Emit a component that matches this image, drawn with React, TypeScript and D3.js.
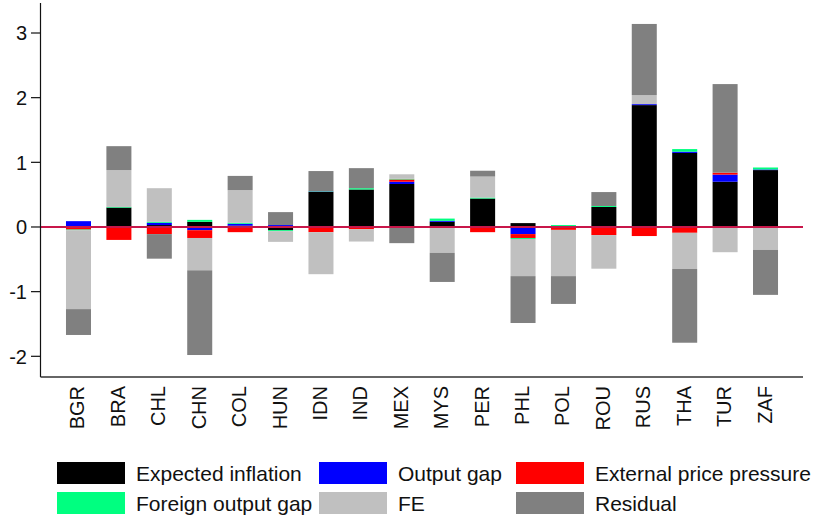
import React from "react";
import * as d3 from "d3";

const countries = ["BGR","BRA","CHL","CHN","COL","HUN","IDN","IND","MEX","MYS","PER","PHL","POL","ROU","RUS","THA","TUR","ZAF"];
const expectedInflation = [0, 0.30, 0.03, 0.08, 0.02, -0.05, 0.545, 0.58, 0.665, 0.08, 0.44, 0.06, 0, 0.31, 1.885, 1.145, 0.70, 0.88];
const outputGap = [0.09, -0.01, 0.035, -0.05, 0.03, 0.03, 0.005, -0.01, 0.035, 0.015, -0.015, -0.11, 0, -0.01, 0.015, 0.02, 0.11, 0.01];
const externalPrice = [-0.04, -0.19, -0.11, -0.12, -0.08, 0, -0.08, -0.025, 0.035, 0, -0.065, -0.06, -0.045, -0.115, -0.14, -0.09, 0.03, -0.015];
const foreignOutputGap = [-0.01, 0.01, 0.015, 0.03, 0.015, -0.015, 0.005, 0.02, 0.01, 0.035, 0.015, -0.015, 0.03, 0.015, 0, 0.04, -0.01, 0.03];
const fe = [-1.22, 0.57, 0.52, -0.50, 0.505, -0.165, -0.65, -0.19, 0.07, -0.40, 0.325, -0.575, -0.715, -0.52, 0.14, -0.56, -0.38, -0.34];
const residual = [-0.40, 0.37, -0.38, -1.31, 0.22, 0.20, 0.31, 0.31, -0.25, -0.45, 0.09, -0.725, -0.43, 0.215, 1.10, -1.14, 1.37, -0.695];

const seriesNames = ["Expected inflation", "Output gap", "External price pressure", "Foreign output gap", "FE", "Residual"];
const seriesColors = ["#000000", "#0000ff", "#ff0000", "#00ff80", "#c0c0c0", "#808080"];
const yTicks = [-2, -1, 0, 1, 2, 3];

const FONT = "'Liberation Sans', Arial, sans-serif";

export default function App() {
  const W = 818, H = 518;
  const allSeries = [expectedInflation, outputGap, externalPrice, foreignOutputGap, fe, residual];
  const rows = countries.map((c, i) => {
    const r: any = { country: c };
    seriesNames.forEach((s, k) => (r[s] = allSeries[k][i]));
    return r;
  });
  const stack = d3.stack<any>().keys(seriesNames).offset(d3.stackOffsetDiverging);
  const stacked = stack(rows);

  const x = d3.scaleBand<string>().domain(countries).range([58.3, 785.7]).paddingInner(0.381).paddingOuter(0.19);
  const y = d3.scaleLinear().domain([-2.32, 3.464]).range([377, 3]);

  const axisLeft = 40.5;
  const axisRight = 803;

  const legendCols = [57, 319, 516];
  const legendRows = [462, 492];

  return (
    <div style={{ position: "fixed", left: 0, top: 0 }}>
      <svg width={W} height={H} style={{ display: "block", background: "#fff" }} fontFamily={FONT}>
        {stacked.map((layer, k) => (
          <g key={k} fill={seriesColors[k]}>
            {layer.map((d, i) => {
              const y0 = y(d[0]);
              const y1 = y(d[1]);
              const top = Math.min(y0, y1);
              const h = Math.abs(y0 - y1);
              if (h <= 0) return null;
              return <rect key={i} x={x(countries[i])} y={top} width={x.bandwidth()} height={h} />;
            })}
          </g>
        ))}
        {/* zero line */}
        <line x1={axisLeft} x2={axisRight} y1={y(0)} y2={y(0)} stroke="#c8174a" strokeWidth={2} />
        {/* axes */}
        <line x1={axisLeft} x2={axisLeft} y1={3} y2={377} stroke="#111" strokeWidth={1.2} />
        <line x1={axisLeft} x2={axisRight} y1={377} y2={377} stroke="#333" strokeWidth={1.3} />
        {yTicks.map((t) => (
          <g key={t}>
            <line x1={31} x2={axisLeft} y1={y(t)} y2={y(t)} stroke="#111" strokeWidth={1.2} />
            <text x={27} y={y(t)} dy="0.36em" textAnchor="end" fontSize={20} fill="#111">
              {t}
            </text>
          </g>
        ))}
        {countries.map((c) => {
          const cx = (x(c) as number) + x.bandwidth() / 2;
          return (
            <text
              key={c}
              transform={`translate(${cx},386) rotate(-90)`}
              dy="0.3em"
              textAnchor="end"
              fontSize={20}
              fill="#111"
            >
              {c}
            </text>
          );
        })}
        {seriesNames.map((s, k) => {
          const col = k % 3;
          const row = Math.floor(k / 3);
          const lx = legendCols[col];
          const ly = legendRows[row];
          return (
            <g key={s}>
              <rect x={lx} y={ly} width={68} height={22} fill={seriesColors[k]} />
              <text x={lx + 79} y={ly + 11} dy="0.36em" fontSize={21} fill="#111">
                {s}
              </text>
            </g>
          );
        })}
      </svg>
    </div>
  );
}
